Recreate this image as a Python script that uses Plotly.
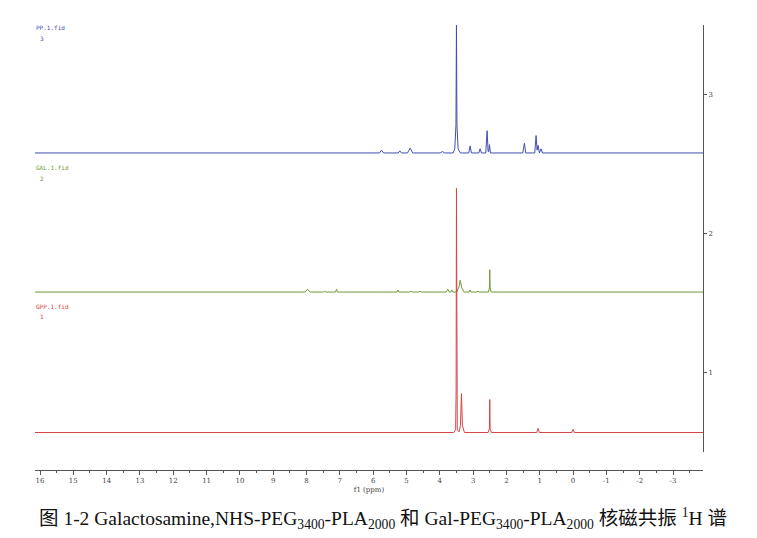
import plotly.graph_objects as go

# ---- data ----
LABELS = ["PP.1.fid", "GAL.1.fid", "GPP.1.fid"]
NUMBERS = ["3", "2", "1"]
COLORS = ["#3f4fae", "#6f9a3a", "#d64545"]
BASELINES = [2.58, 1.58, 0.57]

pp_x = [16.15, 5.81, 5.75, 5.69, 5.25, 5.20, 5.15, 4.97, 4.89, 4.81, 3.99, 3.92, 3.85,
        3.60, 3.55, 3.515, 3.50, 3.485, 3.45, 3.38, 3.13, 3.09, 3.05, 2.83, 2.79, 2.75,
        2.62, 2.58, 2.55, 2.53, 2.51, 2.48, 1.51, 1.46, 1.42, 1.15, 1.11, 1.08, 1.05,
        1.01, 0.96, 0.92, -3.90]
pp_y = [0, 0, 0.02, 0, 0, 0.015, 0, 0, 0.035, 0, 0, 0.01, 0,
        0, 0.03, 0.2, 0.92, 0.2, 0.03, 0, 0, 0.05, 0, 0, 0.03, 0,
        0, 0.16, 0.01, 0.01, 0.06, 0, 0, 0.07, 0, 0, 0.125, 0.02, 0.055,
        0, 0.03, 0, 0]

gal_x = [16.15, 8.04, 7.97, 7.89, 7.49, 7.46, 7.43, 7.13, 7.10, 7.07, 5.29, 5.26, 5.23,
         4.90, 4.87, 4.84, 4.62, 4.59, 4.56, 3.81, 3.76, 3.71, 3.67, 3.64, 3.61, 3.49,
         3.42, 3.39, 3.34, 3.27, 3.12, 3.09, 3.06, 2.89, 2.86, 2.83, 2.54, 2.51, 2.50,
         2.49, 2.46, -3.90]
gal_y = [0, 0, 0.02, 0, 0, 0.008, 0, 0, 0.02, 0, 0, 0.015, 0,
         0, 0.008, 0, 0, 0.008, 0, 0, 0.02, 0, 0, 0.015, 0, 0,
         0.04, 0.085, 0.03, 0, 0, 0.015, 0, 0, 0.008, 0, 0, 0.03, 0.16,
         0.03, 0, 0]

gpp_x = [16.15, 4.49, 4.39, 4.29, 3.58, 3.525, 3.51, 3.50, 3.49, 3.475, 3.42, 3.38,
         3.35, 3.32, 3.26, 2.55, 2.51, 2.50, 2.49, 2.45, 1.09, 1.05, 1.01, 0.04, 0.0,
         -0.04, -3.90]
gpp_y = [0, 0, 0.005, 0, 0, 0.02, 0.3, 1.755, 0.3, 0.02, 0.005, 0.05,
         0.28, 0.05, 0, 0, 0.03, 0.237, 0.03, 0, 0, 0.03, 0, 0, 0.022,
         0, 0]

X_TICKS = list(range(-3, 17))
Y_TICKS = [1, 2, 3]
CAPTION = ("图 1-2 Galactosamine,NHS-PEG<sub>3400</sub>-PLA<sub>2000</sub> 和 "
           "Gal-PEG<sub>3400</sub>-PLA<sub>2000</sub> 核磁共振 <sup>1</sup>H 谱")

SPECTRA_X = [pp_x, gal_x, gpp_x]
SPECTRA_Y = [pp_y, gal_y, gpp_y]

# ---- figure (page body adds an 8px offset) ----
OFF = 8
W, H = 757 - OFF, 538 - OFF
ML, MT = 35 - OFF, 25 - OFF
MR = W - (703 - OFF)
MB = H - (470 - OFF)
PH = H - MT - MB
PW = W - ML - MR

fig = go.Figure()
for i in range(3):
    fig.add_trace(go.Scatter(
        x=SPECTRA_X[i],
        y=[BASELINES[i] + v for v in SPECTRA_Y[i]],
        mode="lines",
        line=dict(color=COLORS[i], width=1),
        hoverinfo="skip",
        showlegend=False,
    ))

def py(pixel):
    return 1 - (pixel - 25) / PH

def px(pixel):
    return (pixel - 35) / PW

ann = []
label_pos = [(28, 38), (168, 178), (306, 316)]
for i in range(3):
    ann.append(dict(text=LABELS[i], x=px(34), y=py(label_pos[i][0]), xref="paper", yref="paper",
                    xanchor="left", yanchor="middle", showarrow=False,
                    font=dict(family="DejaVu Sans Mono", size=6, color=COLORS[i])))
    ann.append(dict(text=NUMBERS[i], x=px(38), y=py(label_pos[i][1]), xref="paper", yref="paper",
                    xanchor="left", yanchor="middle", showarrow=False,
                    font=dict(family="DejaVu Sans Mono", size=6, color=COLORS[i])))
ann.append(dict(text=CAPTION, x=px(383), y=py(518), xref="paper", yref="paper",
                xanchor="center", yanchor="middle", showarrow=False,
                font=dict(family="Liberation Serif, Noto Sans CJK SC", size=19.5, color="#111")))

fig.update_layout(
    width=W, height=H,
    margin=dict(l=ML, r=MR, t=MT, b=MB),
    paper_bgcolor="white", plot_bgcolor="white",
    annotations=ann,
    xaxis=dict(
        range=[16.15, -3.90], anchor="free", position=0,
        tickvals=X_TICKS, ticktext=[str(v) for v in X_TICKS],
        ticks="outside", ticklen=4, tickcolor="#555", tickwidth=1,
        minor=dict(dtick=0.5, tick0=0, ticks="outside", ticklen=2, tickcolor="#555"),
        showline=True, linecolor="#555", linewidth=1,
        showgrid=False, zeroline=False,
        tickfont=dict(family="DejaVu Serif", size=7, color="#444"),
        title=dict(text="f1 (ppm)", standoff=2,
                   font=dict(family="DejaVu Serif", size=7, color="#444")),
    ),
    yaxis=dict(
        range=[0.43, 3.50], domain=[18 / PH, 1], side="right",
        tickvals=Y_TICKS, ticktext=[str(v) for v in Y_TICKS],
        ticks="outside", ticklen=3, tickcolor="#555",
        showline=True, linecolor="#555", linewidth=1,
        showgrid=False, zeroline=False,
        tickfont=dict(family="DejaVu Serif", size=7, color="#444"),
    ),
)

fig.write_html("out.html")
